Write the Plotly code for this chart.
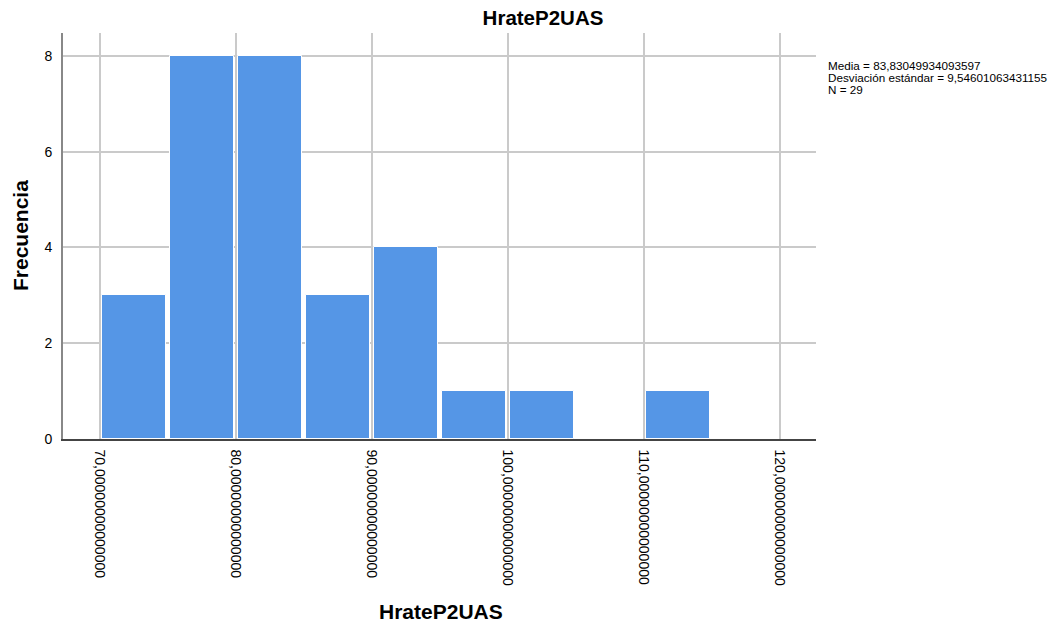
import plotly.graph_objects as go

# Data
bin_starts = [70, 75, 80, 85, 90, 95, 100, 105, 110]
bin_width = 5
counts = [3, 8, 8, 3, 4, 1, 1, 0, 1]
x_ticks = [70, 80, 90, 100, 110, 120]
y_ticks = [0, 2, 4, 6, 8]
stats_lines = [
    "Media = 83,83049934093597",
    "Desviación estándar = 9,54601063431155",
    "N = 29",
]
title_text = "HrateP2UAS"
x_title = "HrateP2UAS"
y_title = "Frecuencia"

x_ticktext = [f"{v:.14f}".replace(".", ",") for v in x_ticks]

FONT = "Arial, Liberation Sans, sans-serif"
OFF = 8  # page body margin offset
W, H = 1059 - OFF, 625 - OFF
L, R, T, B = 63 - OFF, 816 - OFF, 33 - OFF, 439 - OFF
pw, ph = R - L, B - T


def px(xp):
    return (xp - OFF - L) / pw


def py(yp):
    return (B - (yp - OFF)) / ph


fig = go.Figure()
fig.add_trace(go.Bar(
    x=bin_starts,
    y=counts,
    width=[bin_width * 0.955] * len(bin_starts),
    offset=bin_width * 0.0225,
    marker=dict(color="#5596E6", line=dict(color="white", width=1)),
    hoverinfo="x+y",
))

annotations = [
    dict(text=f"<b>{x_title}</b>", x=px(441), y=py(611), xref="paper", yref="paper",
         showarrow=False, font=dict(size=21, color="#000000", family=FONT),
         xanchor="center", yanchor="middle"),
    dict(text=f"<b>{y_title}</b>", x=px(20), y=py(236), xref="paper", yref="paper",
         showarrow=False, textangle=-90, font=dict(size=21, color="#000000", family=FONT),
         xanchor="center", yanchor="middle"),
]
for i, line in enumerate(stats_lines):
    annotations.append(dict(
        text=line, x=px(826), y=py(65 + 12 * i), xref="paper", yref="paper",
        showarrow=False, font=dict(size=11.7, color="#000000", family=FONT),
        xanchor="left", yanchor="middle",
    ))

fig.update_layout(
    width=W, height=H,
    margin=dict(l=L, r=W - R, t=T, b=H - B, pad=0),
    paper_bgcolor="white", plot_bgcolor="white",
    title=dict(
        text=f"<b>{title_text}</b>",
        x=(543 - OFF) / W, xanchor="center", xref="container",
        y=1 - (18 - OFF) / H, yanchor="middle", yref="container",
        font=dict(size=20.5, color="#000000", family=FONT),
    ),
    bargap=0,
    showlegend=False,
    font=dict(family=FONT, size=14, color="#000000"),
    annotations=annotations,
    xaxis=dict(
        range=[67.28, 122.65],
        tickvals=x_ticks, ticktext=x_ticktext,
        tickangle=90,
        tickfont=dict(size=14, color="#000000", family=FONT),
        showgrid=True, gridcolor="#CACACA", gridwidth=1.5,
        showline=True, linecolor="#444444", linewidth=1.5,
        ticks="", ticklabelstandoff=6,
        zeroline=False, fixedrange=True,
    ),
    yaxis=dict(
        range=[0, 8.48],
        tickvals=y_ticks,
        tickfont=dict(size=14, color="#000000", family=FONT),
        showgrid=True, gridcolor="#CACACA", gridwidth=1.5,
        showline=True, linecolor="#888888", linewidth=2,
        ticks="", ticklabelstandoff=6,
        zeroline=False, fixedrange=True,
    ),
)

fig.write_html("out.html")
